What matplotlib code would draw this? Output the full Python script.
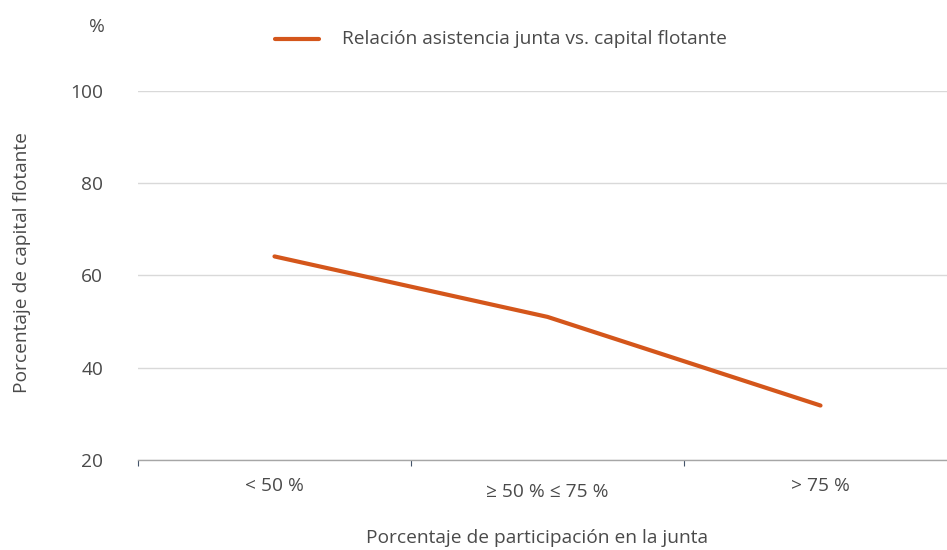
import matplotlib
matplotlib.use("Agg")
import matplotlib.pyplot as plt
from matplotlib.transforms import ScaledTranslation

categories = ["< 50 %", "≥ 50 % ≤ 75 %", "> 75 %"]
values = [64.1, 51.0, 31.8]
series_name = "Relación asistencia junta vs. capital flotante"
y_ticks = [20, 40, 60, 80, 100]

plt.rcParams['font.family'] = ['Open Sans', 'DejaVu Sans']
TXT = '#4a4a4a'
LINE = '#d4561b'
FS = 13.8

fig = plt.figure(figsize=(9.47, 5.5), dpi=100)
ax = fig.add_axes([138/947, 1-460/550, (957-138)/947, (460-90.7)/550])

x = list(range(len(categories)))
ax.plot(x, values, color=LINE, lw=3.0, solid_capstyle='round', solid_joinstyle='round', zorder=3)

ax.set_xlim(-0.5, len(categories) - 0.5)
ax.set_ylim(20, 100)
ax.set_yticks(y_ticks)
ax.set_yticklabels([str(v) for v in y_ticks], fontsize=FS, color=TXT)
ax.tick_params(axis='y', length=0, pad=25)
ax.grid(axis='y', color='#d9d9d9', lw=1.0)
ax.set_axisbelow(True)

ax.set_xticks(x)
ax.set_xticklabels(categories, fontsize=FS, color=TXT)
ax.set_xticks([i - 0.5 for i in range(len(categories) + 1)], minor=True)
ax.tick_params(axis='x', which='major', length=0, pad=12)
ax.tick_params(axis='x', which='minor', length=4, color='#44546a', width=0.8)

for s in ['top', 'right', 'left']:
    ax.spines[s].set_visible(False)
ax.spines['bottom'].set_color('#a6a6a6')
ax.spines['bottom'].set_linewidth(1.0)

lbls = ax.get_xticklabels()
lbls[1].set_transform(lbls[1].get_transform() + ScaledTranslation(0, -6/100, fig.dpi_scale_trans))

fig.text(537/947, 1-538/550, "Porcentaje de participación en la junta", fontsize=FS, color=TXT,
         ha='center', va='center')
fig.text(22/947, 1-263/550, "Porcentaje de capital flotante", fontsize=FS, color=TXT,
         ha='center', va='center', rotation=90)

fig.text(97/947, 1-27/550, "%", fontsize=FS, color=TXT, ha='center', va='center')

leg_line = plt.Line2D([275/947, 319/947], [1-39/550, 1-39/550], transform=fig.transFigure,
                      color=LINE, lw=3.0, solid_capstyle='round')
fig.add_artist(leg_line)
fig.text(342/947, 1-39/550, series_name, fontsize=FS, color=TXT, ha='left', va='center')

fig.savefig("out.png", dpi=100)
